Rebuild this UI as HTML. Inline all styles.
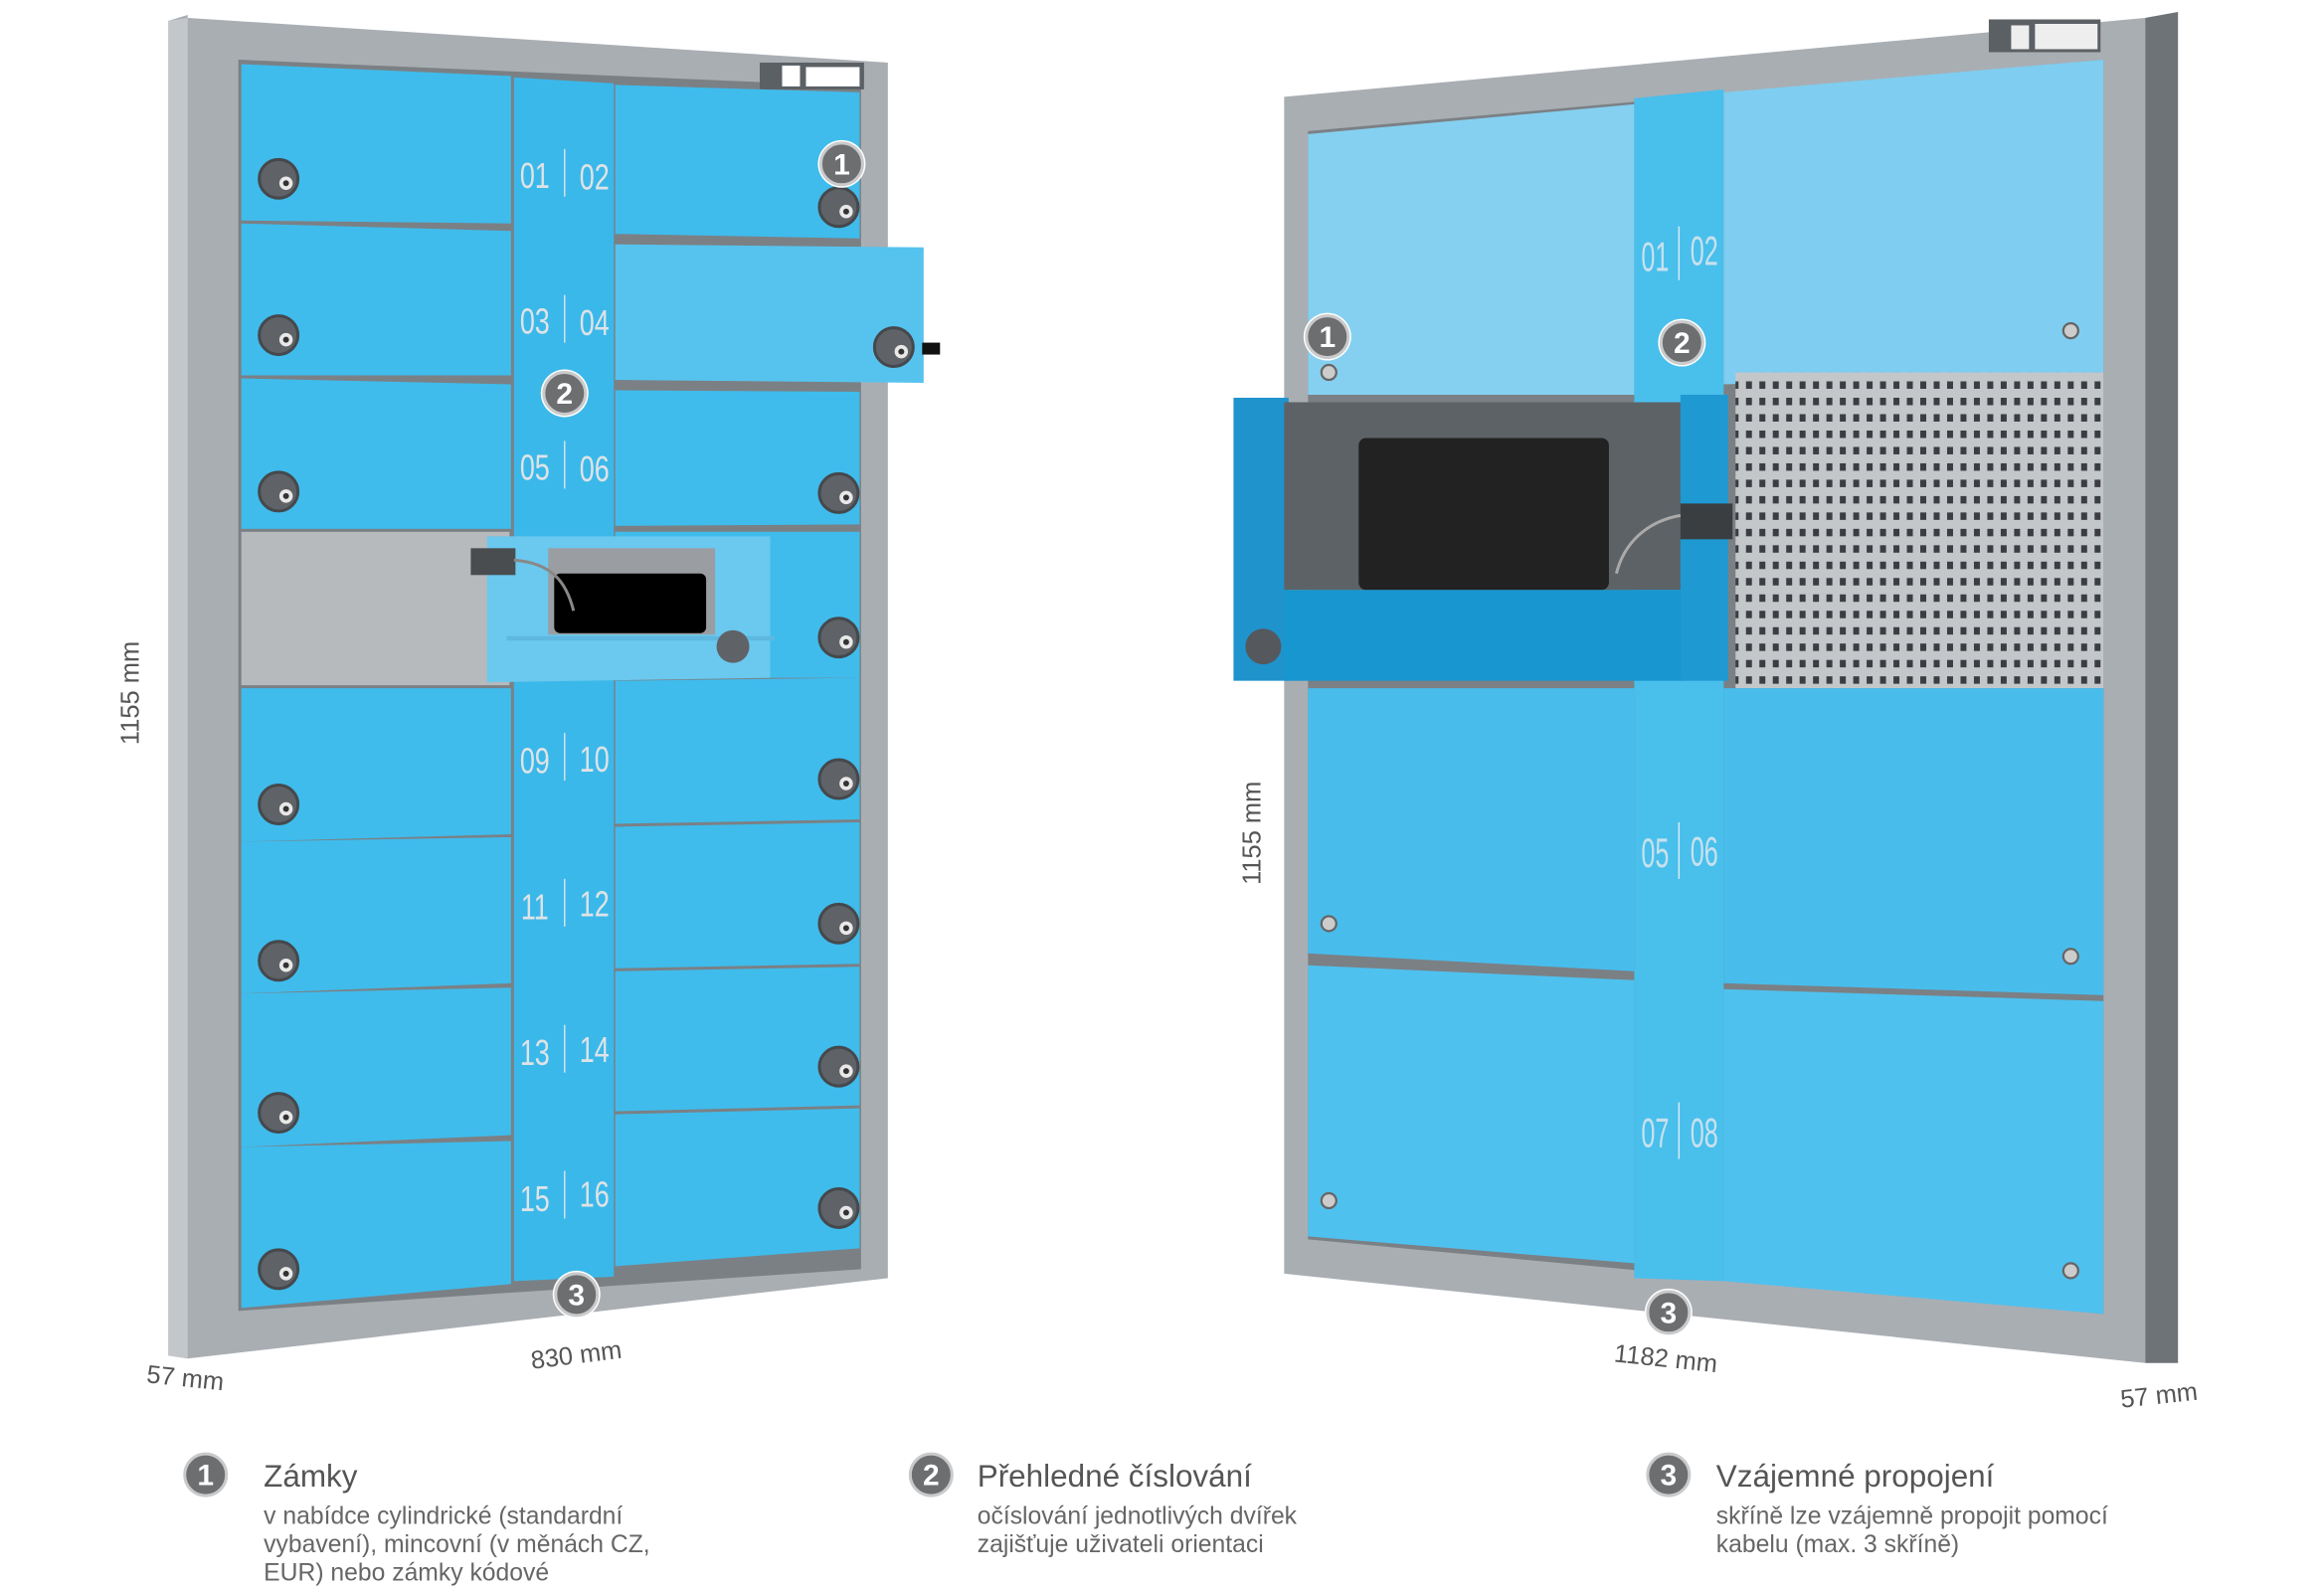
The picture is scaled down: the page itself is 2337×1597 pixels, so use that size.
<!DOCTYPE html>
<html><head><meta charset="utf-8"><style>
html,body{margin:0;padding:0;background:#fff;overflow:hidden;}
svg{display:block;}
text{font-family:"Liberation Sans",sans-serif;}
</style></head><body>
<svg width="2337" height="1597" viewBox="0 0 1560 1066" xmlns="http://www.w3.org/2000/svg">
<defs>
<pattern id="perf" width="9" height="11" patternUnits="userSpaceOnUse">
<rect width="9" height="11" fill="#c4c7ca"/><rect x="2" y="3" width="4" height="5" fill="#3a3e42"/>
</pattern>
<g id="lock"><circle r="13" fill="#5f6266"/><circle r="13" fill="none" stroke="#45484c" stroke-width="2"/><circle cx="5" cy="3" r="4.5" fill="#e8e8e8"/><circle cx="5" cy="3" r="2" fill="#333"/></g>
<g id="badge"><circle r="16" fill="#fff"/><circle r="14" fill="#6d6e70" stroke="#c9cacb" stroke-width="2"/></g>
</defs>

<!-- LEFT CABINET -->
<polygon points="113,14 126,10 126,12 596,42 596,858 126,912 113,910" fill="#a9aeb3"/>
<polygon points="113,14 126,12 126,912 113,910" fill="#c3c7ca"/>
<polygon points="160,40 578,58 578,852 160,880" fill="#7b8085"/>
<rect x="510" y="42" width="70" height="18" fill="#5b6065"/><rect x="525" y="44" width="12" height="14" fill="#fff"/><rect x="541" y="45" width="36" height="13" fill="#fff"/>
<polygon points="345,52 412,56 412,857 345,860" fill="#3bb8ea"/>
<g fill="#3fbcec">
<polygon points="162,43 343,51 343,150 162,148"/>
<polygon points="162,150 343,155 343,252 162,252"/>
<polygon points="162,254 343,258 343,355 162,355"/>
<polygon points="162,462 343,462 343,560 162,565"/>
<polygon points="162,565 343,562 343,660 162,667"/>
<polygon points="162,667 343,663 343,762 162,770"/>
<polygon points="162,770 343,766 343,862 162,878"/>
<polygon points="413,57 577,62 577,160 413,157"/>
<polygon points="413,262 577,263 577,352 413,353"/>
<polygon points="413,357 577,357 577,452 413,455"/>
<polygon points="413,457 577,455 577,550 413,553"/>
<polygon points="413,555 577,552 577,647 413,650"/>
<polygon points="413,652 577,649 577,742 413,746"/>
<polygon points="413,748 577,744 577,838 413,850"/>
</g>
<rect x="162" y="357" width="180" height="103" fill="#b6babd"/>
<rect x="413" y="357" width="164" height="98" fill="#3fbcec"/>
<polygon points="327,360 517,360 517,455 327,458" fill="#6bc8ee"/>
<rect x="368" y="368" width="112" height="58" fill="#9a9ea2"/>
<rect x="372" y="385" width="102" height="40" rx="4" fill="#000"/>
<rect x="340" y="427" width="180" height="3" fill="#5fb8e0"/>
<circle cx="492" cy="434" r="11" fill="#5f6266"/>
<rect x="316" y="368" width="30" height="18" fill="#4a4d50"/>
<path d="M345 376 C370 378 380 390 385 410" stroke="#888" stroke-width="2" fill="none"/>
<polygon points="413,164 620,166 620,257 413,255" fill="#56c3ee"/>
<rect x="619" y="230" width="12" height="8" fill="#111"/>
<g>
<use href="#lock" x="187" y="120"/><use href="#lock" x="187" y="225"/><use href="#lock" x="187" y="330"/>
<use href="#lock" x="187" y="540"/><use href="#lock" x="187" y="645"/><use href="#lock" x="187" y="747"/><use href="#lock" x="187" y="852"/>
<use href="#lock" x="563" y="139"/><use href="#lock" x="600" y="233"/><use href="#lock" x="563" y="331"/><use href="#lock" x="563" y="428"/>
<use href="#lock" x="563" y="523"/><use href="#lock" x="563" y="620"/><use href="#lock" x="563" y="716"/><use href="#lock" x="563" y="811"/>
</g>
<g fill="#dfe3e6" font-size="24" text-anchor="middle">
<g transform="translate(359,0) scale(0.75,1)"><text x="0" y="126">01</text><text x="0" y="224">03</text><text x="0" y="322">05</text><text x="0" y="519">09</text><text x="0" y="617">11</text><text x="0" y="715">13</text><text x="0" y="813">15</text></g>
<g transform="translate(399,0) scale(0.75,1)"><text x="0" y="127">02</text><text x="0" y="225">04</text><text x="0" y="323">06</text><text x="0" y="518">10</text><text x="0" y="615">12</text><text x="0" y="713">14</text><text x="0" y="810">16</text></g>
</g>
<g stroke="#cfe4ef" stroke-width="1"><line x1="379" y1="100" x2="379" y2="132"/><line x1="379" y1="198" x2="379" y2="230"/><line x1="379" y1="296" x2="379" y2="328"/><line x1="379" y1="492" x2="379" y2="524"/><line x1="379" y1="590" x2="379" y2="622"/><line x1="379" y1="688" x2="379" y2="720"/><line x1="379" y1="786" x2="379" y2="818"/></g>

<!-- RIGHT CABINET -->
<polygon points="862,65 1440,12 1440,915 862,855" fill="#a9aeb3"/>
<polygon points="1440,12 1462,8 1462,915 1440,915" fill="#6e7378"/>
<polygon points="878,88 1412,40 1412,882 878,832" fill="#7b8085"/>
<rect x="1335" y="13" width="75" height="22" fill="#5b6065"/><rect x="1350" y="17" width="12" height="16" fill="#eee"/><rect x="1366" y="16" width="42" height="17" fill="#eee"/>
<polygon points="1097,66 1157,60 1157,860 1097,858" fill="#49bfec"/>
<polygon points="878,90 1097,70 1097,265 878,265" fill="#85d0f0"/>
<polygon points="1157,62 1412,40 1412,250 1157,258" fill="#7fcdf0"/>
<rect x="1165" y="250" width="247" height="212" fill="url(#perf)"/>
<polygon points="878,462 1097,462 1097,652 878,640" fill="#48bdec"/>
<polygon points="878,648 1097,658 1097,848 878,830" fill="#4fc1ee"/>
<polygon points="1157,462 1412,462 1412,668 1157,660" fill="#48bdec"/>
<polygon points="1157,664 1412,672 1412,882 1157,860" fill="#4fc1ee"/>
<rect x="828" y="267" width="37" height="190" fill="#1f93cc"/>
<rect x="862" y="270" width="268" height="126" fill="#5d6266"/>
<rect x="912" y="294" width="168" height="102" rx="5" fill="#222"/>
<rect x="862" y="396" width="268" height="61" fill="#1896cf"/>
<rect x="1128" y="265" width="32" height="192" fill="#1e99d2"/>
<rect x="1128" y="338" width="35" height="24" fill="#3b3e41"/>
<path d="M1128 346 C1105 350 1090 365 1085 385" stroke="#aaa" stroke-width="2" fill="none"/>
<circle cx="848" cy="434" r="12" fill="#55585c"/>
<g fill="#ccc" stroke="#666" stroke-width="1.5"><circle cx="892" cy="250" r="5"/><circle cx="1390" cy="222" r="5"/><circle cx="892" cy="620" r="5"/><circle cx="1390" cy="642" r="5"/><circle cx="892" cy="806" r="5"/><circle cx="1390" cy="853" r="5"/></g>
<g fill="#dfe8ee" font-size="28" text-anchor="middle" opacity="0.85">
<g transform="translate(1111,0) scale(0.6,1)"><text x="0" y="182">01</text><text x="0" y="582">05</text><text x="0" y="770">07</text></g>
<g transform="translate(1144,0) scale(0.6,1)"><text x="0" y="178">02</text><text x="0" y="581">06</text><text x="0" y="770">08</text></g>
</g>
<g stroke="#d6ebf5"><line x1="1127" y1="152" x2="1127" y2="188"/><line x1="1127" y1="552" x2="1127" y2="590"/><line x1="1127" y1="740" x2="1127" y2="778"/></g>

<g font-size="20" font-weight="bold" fill="#fff" text-anchor="middle">
<use href="#badge" x="565" y="110"/><text x="565" y="117">1</text>
<use href="#badge" x="379" y="264"/><text x="379" y="271">2</text>
<use href="#badge" x="387" y="869"/><text x="387" y="876">3</text>
<use href="#badge" x="891" y="226"/><text x="891" y="233">1</text>
<use href="#badge" x="1129" y="230"/><text x="1129" y="237">2</text>
<use href="#badge" x="1120" y="881"/><text x="1120" y="888">3</text>
</g>

<g fill="#555" font-size="17">
<text transform="translate(93,500) rotate(-90)">1155 mm</text>
<text transform="translate(98,928) rotate(6)">57 mm</text>
<text transform="translate(357,919) rotate(-7)">830 mm</text>
<text transform="translate(846,594) rotate(-90)">1155 mm</text>
<text transform="translate(1083,914) rotate(6)">1182 mm</text>
<text transform="translate(1424,945) rotate(-6)">57 mm</text>
</g>

<g font-size="20" font-weight="bold" fill="#fff" text-anchor="middle">
<use href="#badge" x="138" y="990"/><text x="138" y="997">1</text>
<use href="#badge" x="625" y="990"/><text x="625" y="997">2</text>
<use href="#badge" x="1120" y="990"/><text x="1120" y="997">3</text>
</g>
<g fill="#555">
<text x="177" y="998" font-size="21">Zámky</text>
<text x="656" y="998" font-size="21">Přehledné číslování</text>
<text x="1152" y="998" font-size="21">Vzájemné propojení</text>
<g font-size="16.5" fill="#666">
<text x="177" y="1023">v nabídce cylindrické (standardní</text>
<text x="177" y="1042">vybavení), mincovní (v měnách CZ,</text>
<text x="177" y="1061">EUR) nebo zámky kódové</text>
<text x="656" y="1023">očíslování jednotlivých dvířek</text>
<text x="656" y="1042">zajišťuje uživateli orientaci</text>
<text x="1152" y="1023">skříně lze vzájemně propojit pomocí</text>
<text x="1152" y="1042">kabelu (max. 3 skříně)</text>
</g>
</g>
</svg>
</body></html>
